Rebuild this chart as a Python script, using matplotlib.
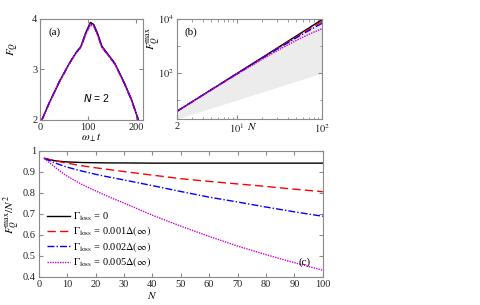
import numpy as np
import matplotlib
matplotlib.use("Agg")
import matplotlib.pyplot as plt
from matplotlib.ticker import FixedLocator, NullFormatter, LogLocator

plt.rcParams['font.family'] = ['Liberation Serif', 'DejaVu Serif']
plt.rcParams['mathtext.fontset'] = 'stix'
plt.rcParams['font.size'] = 7.5

# ---------------- data ----------------
# panel (a): F_Q vs omega_perp t, N = 2
t_a = [4, 20, 40, 60, 75, 85, 95, 105, 112, 120, 129, 140, 156, 175, 190, 205]
fq_black = [2.0, 2.35, 2.75, 3.1, 3.33, 3.45, 3.72, 3.93, 3.89, 3.71, 3.46, 3.32, 3.12, 2.75, 2.42, 2.0]
fq_red = [2.0, 2.35, 2.75, 3.1, 3.33, 3.45, 3.71, 3.92, 3.88, 3.70, 3.45, 3.31, 3.11, 2.74, 2.41, 2.0]
fq_blue = [2.0, 2.35, 2.75, 3.1, 3.33, 3.44, 3.70, 3.91, 3.87, 3.69, 3.44, 3.31, 3.11, 2.74, 2.41, 2.0]
fq_mag = [2.0, 2.34, 2.74, 3.09, 3.32, 3.43, 3.68, 3.88, 3.85, 3.67, 3.43, 3.30, 3.10, 2.73, 2.40, 2.0]

# panel (c): F_Q^max / N^2 vs N
N_c = [2, 4, 6, 8, 10, 15, 20, 25, 30, 40, 50, 60, 70, 80, 90, 100]
r_black = [0.965, 0.958, 0.953, 0.950, 0.948, 0.945, 0.944, 0.943, 0.943, 0.942, 0.942, 0.942, 0.942, 0.942, 0.942, 0.942]
r_red = [0.965, 0.959, 0.953, 0.947, 0.942, 0.930, 0.920, 0.911, 0.902, 0.885, 0.868, 0.855, 0.843, 0.831, 0.818, 0.806]
r_blue = [0.965, 0.953, 0.942, 0.932, 0.923, 0.905, 0.889, 0.875, 0.862, 0.835, 0.807, 0.780, 0.757, 0.733, 0.710, 0.689]
r_mag = [0.965, 0.942, 0.920, 0.899, 0.880, 0.842, 0.810, 0.780, 0.752, 0.694, 0.642, 0.593, 0.547, 0.506, 0.468, 0.432]

labels = [r"$\Gamma_{\rm loss}$ = 0",
          r"$\Gamma_{\rm loss}$ = 0.001$\Delta(\infty)$",
          r"$\Gamma_{\rm loss}$ = 0.002$\Delta(\infty)$",
          r"$\Gamma_{\rm loss}$ = 0.005$\Delta(\infty)$"]
colors = ['black', '#ff0000', '#0000ff', '#d000d0']
styles = ['-', (0, (6, 3)), (0, (5, 1.5, 1, 1.5)), (0, (1, 0.8))]

spine_col = '#8a8a8a'

def style_ax(ax):
    for s in ax.spines.values():
        s.set_color(spine_col)
        s.set_linewidth(0.8)
    ax.tick_params(which='both', direction='in', top=True, right=True,
                   color=spine_col, labelsize=7.5, pad=2, length=3,
                   labelcolor='#222222')
    ax.tick_params(which='minor', length=1.8)

fig = plt.figure(figsize=(4.8, 3.05), dpi=100)

# ---------------- panel (a) ----------------
axa = fig.add_axes([0.0833, 0.607, 0.215, 0.331])
for y, c, ls in zip([fq_black, fq_red, fq_blue, fq_mag], colors, styles):
    axa.plot(t_a, y, color=c, ls=ls, lw=1.0)
axa.set_xlim(0, 215)
axa.set_ylim(2, 4)
axa.set_xticks([0, 100, 200])
axa.set_yticks([2, 3, 4])
axa.set_yticklabels(['2', '3', '4'])
style_ax(axa)
axa.set_xlabel(r"$\omega_{\perp}t$", labelpad=0, fontsize=8)
axa.set_ylabel(r"$F_Q$", fontsize=8, labelpad=2)
axa.yaxis.set_label_coords(-0.18, 0.7)
axa.text(0.08, 0.84, "(a)", transform=axa.transAxes, fontsize=8)
axa.text(0.42, 0.18, "$N$ = 2", transform=axa.transAxes, fontsize=7.5,
         family=['Liberation Sans'], math_fontfamily='dejavusans')

# ---------------- panel (b) ----------------
axb = fig.add_axes([0.369, 0.61, 0.302, 0.328])
Nb = np.array(N_c, dtype=float)
axb.fill_between(Nb, Nb, Nb ** 2, color='#ececec', lw=0)
for r, c, ls in zip([r_black, r_red, r_blue, r_mag], colors, styles):
    axb.plot(Nb, np.array(r) * Nb ** 2, color=c, ls=ls, lw=1.0)
axb.set_xscale('log')
axb.set_yscale('log')
axb.set_xlim(2, 100)
axb.set_ylim(2, 1e4)
axb.xaxis.set_major_locator(FixedLocator([2, 10, 100]))
axb.set_xticklabels(['2', r'$10^1$', r'$10^2$'])
axb.xaxis.set_minor_locator(LogLocator(base=10, subs=np.arange(2, 10)))
axb.xaxis.set_minor_formatter(NullFormatter())
axb.yaxis.set_major_locator(FixedLocator([1e2, 1e4]))
axb.set_yticklabels([r'$10^2$', r'$10^4$'])
axb.yaxis.set_minor_locator(FixedLocator([1e1, 1e3]))
axb.yaxis.set_minor_formatter(NullFormatter())
style_ax(axb)
axb.set_ylabel(r"$F_Q^{\rm max}$", fontsize=8, labelpad=1)
axb.yaxis.set_label_coords(-0.1, 0.8)
axb.set_xlabel(r"$N$", fontsize=8)
axb.xaxis.set_label_coords(0.52, -0.02)
axb.text(0.05, 0.84, "(b)", transform=axb.transAxes, fontsize=8)

# ---------------- panel (c) ----------------
axc = fig.add_axes([0.0806, 0.092, 0.592, 0.413])
for r, c, ls, lab in zip([r_black, r_red, r_blue, r_mag], colors, styles, labels):
    axc.plot(N_c, r, color=c, ls=ls, lw=1.0, label=lab)
axc.set_xlim(0, 100)
axc.set_ylim(0.4, 1.0)
axc.set_xticks(np.arange(0, 101, 10))
axc.set_yticks([0.4, 0.5, 0.6, 0.7, 0.8, 0.9, 1.0])
axc.set_yticklabels(['0.4', '0.5', '0.6', '0.7', '0.8', '0.9', '1'])
style_ax(axc)
axc.set_xlabel(r"$N$", fontsize=8, labelpad=0)
axc.xaxis.set_label_coords(0.4, -0.1)
axc.set_ylabel(r"$F_Q^{\rm max}/N^2$", fontsize=8, labelpad=1)
axc.text(0.915, 0.1, "(c)", transform=axc.transAxes, fontsize=8)
axc.legend(loc='lower left', frameon=False, fontsize=7.5, handlelength=2.2,
           handletextpad=0.3, labelspacing=0.15, borderaxespad=0.1,
           bbox_to_anchor=(0.01, 0.02))

fig.savefig("out.png", dpi=100)
